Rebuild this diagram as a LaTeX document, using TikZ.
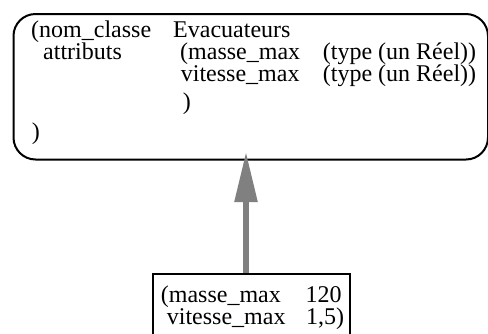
\documentclass[tikz,border=0pt]{standalone}
\usepackage{fontspec}
\setmainfont{Liberation Serif}
\usetikzlibrary{arrows.meta}
\definecolor{arrowgray}{RGB}{128,128,128}
\tikzset{
  txt/.style={anchor=base west, inner sep=0pt, text height=15pt, text depth=3pt, font=\fontsize{24}{24}\selectfont},
  bigbox/.style={draw=black, line width=2pt, rounded corners=22pt, anchor=north west, inner sep=0pt},
  instbox/.style={draw=black, line width=2pt, anchor=north west, inner sep=0pt},
  inherit/.style={draw=arrowgray, line width=5.5pt, -{Triangle[length=50pt, width=22pt]}, arrowgray}
}
\begin{document}
\begin{tikzpicture}[x=1pt, y=-1pt]
\useasboundingbox (0,0) rectangle (488,333);
\clip (0,0) rectangle (488,333);
% class box
\node[bigbox, minimum width=474.5pt, minimum height=145.5pt] (cls) at (12.5,13) {};
\node[txt] (l1a) at (31,37) {(nom\_classe};
\node[txt] (l1b) at (173,37) {Evacuateurs};
\node[txt] (l2a) at (43,59) {attributs};
\node[txt] (l2b) at (180,59) {(masse\_max};
\node[txt] (l2c) at (322.7,59) {(type (un Réel))};
\node[txt] (l3b) at (180.7,81) {vitesse\_max};
\node[txt] (l3c) at (322.7,81) {(type (un Réel))};
\node[txt] (l4b) at (182.7,109) {)};
\node[txt] (l5a) at (31.7,139) {)};
% instance box
\node[instbox, minimum width=197.6pt, minimum height=80pt] (inst) at (151.7,273) {};
\node[txt] (i1a) at (160.7,302) {(masse\_max};
\node[txt] (i1b) at (305.5,302) {120};
\node[txt] (i2a) at (166.7,324) {vitesse\_max};
\node[txt] (i2b) at (306,324) {1,5)};
% inheritance arrow
\coordinate (tip) at (246,152);
\draw[inherit] (inst.north -| tip) -- (tip);
\end{tikzpicture}
\end{document}
